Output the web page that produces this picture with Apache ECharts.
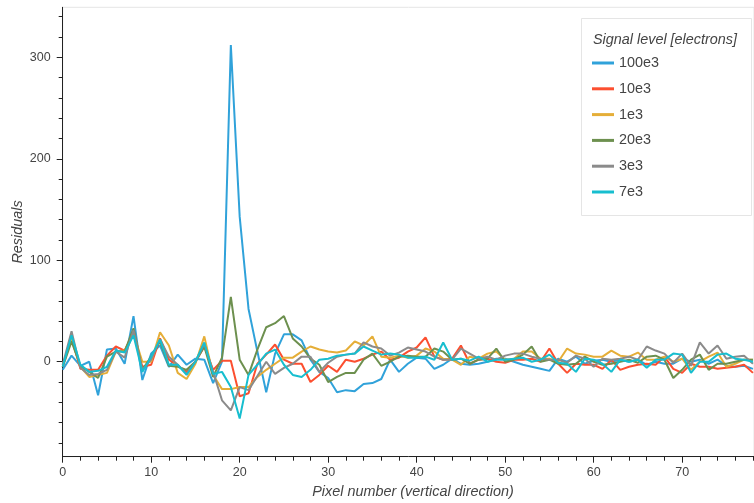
<!DOCTYPE html>
<html>
<head>
<meta charset="utf-8">
<script src="https://cdn.jsdelivr.net/npm/echarts@6/dist/echarts.min.js"></script>
<style>
  html, body { margin: 0; padding: 0; background: #ffffff; }
  #chart { width: 754px; height: 503px; }
</style>
</head>
<body>
<div id="chart"></div>
<script>
// Residuals per pixel row, one list per signal level (electrons)
const signalLevels = ['100e3', '10e3', '1e3', '20e3', '3e3', '7e3'];

const res100e3 = [-8, 6, -4, 0, -33, 12, 13, -2, 45, -18, 8, 16, -5, 7, -3, 3, 2, -21, 0, 312,
  143, 52, 10, -30, 8, 27, 27, 21, 2, -10, -16, -30, -28, -29, -22, -21, -17, 2, -10, -2,
  4, 3, -7, -3, 3, -2, -3, -2, 0, 3, 3, 0, -3, -5, -7, -9, 3, 0, 5, -2,
  1, 2, 0, 2, 0, 2, -3, 0, -2, -2, 3, 0, 2, -2, 2, -4, -5, -4, -7];

const res10e3 = [-5, 24, -7, -8, -8, 6, 15, 11, 28, -5, -3, 23, 2, -4, -10, 0, 15, -8, 1, 1,
  -34, -31, -2, 7, 17, 2, -2, -2, -20, -13, -4, -10, 2, 0, 3, 7, 10, 2, 4, 10,
  14, 24, 5, 2, 3, 16, -2, 2, 3, 0, -1, 2, 2, 3, 0, 13, -2, -11, -2, -3,
  -3, -7, 2, -8, -5, -3, -2, -3, 5, -7, -11, -2, -5, -5, -7, -6, -5, -3, -11];

const res1e3 = [-3, 22, -5, -15, -13, -11, 10, 11, 28, 0, 0, 29, 16, -11, -17, -2, 25, -13, -27, -27,
  -25, -25, -15, -8, -2, 4, 4, 10, 15, 12, 10, 9, 11, 20, 16, 25, 5, 4, 6, 4,
  6, 13, 10, 3, 2, -3, 5, 3, 8, 10, 2, 3, 10, 10, 3, 3, 0, 13, 8, 7,
  5, 5, 11, 6, 5, 9, 2, 2, 5, 0, 3, -8, 0, 5, 9, -5, -2, 2, 2];

const res20e3 = [-5, 20, -4, -10, -16, 5, 10, 10, 33, -8, 5, 20, -4, -5, -8, 0, 15, -15, 4, 64,
  2, -13, 12, 34, 38, 45, 23, 15, 3, -3, -20, -15, -11, -11, 2, 8, -4, 0, 5, 6,
  5, 5, 13, 10, 2, 3, -2, 2, 3, 13, 0, 2, 7, 15, 0, 2, -2, -3, -2, 5,
  0, -3, -2, 0, 2, -1, 5, 6, 2, -16, -8, 2, 7, -8, -2, -2, 0, 2, 2];

const res3e3 = [-3, 30, -6, -13, -12, -8, 10, 4, 31, -8, 2, 22, 5, -3, -12, 0, 18, -10, -38, -48,
  -25, -28, -14, 0, -12, -6, -2, 5, 5, -10, -1, 5, 7, 8, 19, 15, 13, 6, 9, 14,
  12, 10, 5, 2, 2, 13, 8, 3, 5, 2, 6, 8, 8, 5, 3, 2, 2, -1, 6, 3,
  -5, 3, 2, 3, 5, 2, 15, 11, 8, -1, 8, -4, 19, 8, 16, 3, 5, 6, -2];

const res7e3 = [-5, 26, -3, -10, -9, -5, 11, 9, 26, -10, 5, 22, -3, -3, -13, 0, 19, -12, -10, -25,
  -56, -13, -3, 8, 12, -3, -13, -15, -8, 2, 3, 6, 7, 8, 15, 11, 7, 8, 7, 4,
  4, 5, 2, 19, 2, 3, 1, 5, 0, 2, 2, 3, 4, 0, 2, 7, -1, -2, -10, 3,
  2, -2, -10, 2, 0, 2, -6, 2, 2, 8, 7, -11, 0, 0, 7, 8, 3, 2, 0];

const seriesValues = [res100e3, res10e3, res1e3, res20e3, res3e3, res7e3];

// Tick positions
const xMajorTicks = [0, 10, 20, 30, 40, 50, 60, 70];
const xMinorTicks = [2, 4, 6, 8, 12, 14, 16, 18, 22, 24, 26, 28, 32, 34, 36, 38, 42, 44, 46, 48,
  52, 54, 56, 58, 62, 64, 66, 68, 72, 74, 76, 78];
const yMajorTicks = [0, 100, 200, 300];
const yMinorTicks = [-80, -60, -40, -20, 20, 40, 60, 80, 120, 140, 160, 180, 220, 240, 260, 280,
  320, 340];

const palette = ['#30a2da', '#fc4f30', '#e5ae38', '#6d904f', '#8b8b8b', '#17becf'];
const FONT = '"Liberation Sans", Arial, Helvetica, sans-serif';
const X_MIN = 0, X_MAX = 78.12, Y_MIN = -93.6, Y_MAX = 349.3;
const AXIS_COLOR = '#222';
const LABEL_COLOR = '#444';

function majorAxis(dim, ticks, extra) {
  return Object.assign({
    type: 'value',
    min: dim === 'x' ? X_MIN : Y_MIN,
    max: dim === 'x' ? X_MAX : Y_MAX,
    axisLine: { show: true, onZero: false, lineStyle: { color: AXIS_COLOR, width: 1 } },
    axisTick: { show: true, customValues: ticks, length: 6, lineStyle: { color: AXIS_COLOR, width: 1 } },
    axisLabel: { customValues: ticks, color: LABEL_COLOR, fontSize: 12.5, fontFamily: FONT },
    splitLine: { show: false },
    minorTick: { show: false }
  }, extra);
}

function minorAxis(dim, ticks, extra) {
  return Object.assign({
    type: 'value',
    min: dim === 'x' ? X_MIN : Y_MIN,
    max: dim === 'x' ? X_MAX : Y_MAX,
    axisLine: { show: false, onZero: false },
    axisTick: { show: true, customValues: ticks, length: 4, lineStyle: { color: AXIS_COLOR, width: 1 } },
    axisLabel: { show: false },
    splitLine: { show: false }
  }, extra);
}

const chart = echarts.init(document.getElementById('chart'), null, { renderer: 'canvas' });

chart.setOption({
  animation: false,
  backgroundColor: '#ffffff',
  grid: {
    left: 62.7, right: 0, top: 7.3, bottom: 46.3,
    show: true, borderColor: '#e5e5e5', borderWidth: 1,
    containLabel: false, outerBoundsMode: 'none'
  },
  xAxis: [
    majorAxis('x', xMajorTicks, { position: 'bottom', axisLabel: { customValues: xMajorTicks, color: LABEL_COLOR, fontSize: 12.5, fontFamily: FONT, margin: 9 } }),
    minorAxis('x', xMinorTicks, { position: 'bottom' })
  ],
  yAxis: [
    majorAxis('y', yMajorTicks, { position: 'left', axisLabel: { customValues: yMajorTicks, color: LABEL_COLOR, fontSize: 12.5, fontFamily: FONT, margin: 12 } }),
    minorAxis('y', yMinorTicks, { position: 'left' })
  ],
  legend: {
    orient: 'vertical',
    left: 592, top: 55.5,
    padding: 0,
    itemGap: 10.8,
    itemWidth: 22, itemHeight: 3,
    icon: 'rect',
    textStyle: { fontSize: 14.4, lineHeight: 15, color: LABEL_COLOR, fontFamily: FONT },
    data: signalLevels
  },
  graphic: [
    {
      type: 'rect', z: 0,
      shape: { x: 581.5, y: 18.5, width: 170, height: 197 },
      style: { fill: '#ffffff', stroke: '#e5e5e5', lineWidth: 1 }
    },
    {
      type: 'text', z: 5, x: 593, y: 40,
      style: {
        text: 'Signal level [electrons]', fill: LABEL_COLOR,
        font: 'italic 14.4px ' + FONT, textAlign: 'left', textVerticalAlign: 'middle'
      }
    },
    {
      type: 'text', z: 5, x: 17.5, y: 232, rotation: Math.PI / 2,
      style: {
        text: 'Residuals', fill: LABEL_COLOR,
        font: 'italic 14.4px ' + FONT, textAlign: 'center', textVerticalAlign: 'middle'
      }
    },
    {
      type: 'text', z: 5, x: 413, y: 492,
      style: {
        text: 'Pixel number (vertical direction)', fill: LABEL_COLOR,
        font: 'italic 14.4px ' + FONT, textAlign: 'center', textVerticalAlign: 'middle'
      }
    }
  ],
  series: signalLevels.map((name, k) => ({
    name: name,
    type: 'line',
    xAxisIndex: 0,
    yAxisIndex: 0,
    data: seriesValues[k].map((v, i) => [i, v]),
    showSymbol: false,
    symbol: 'none',
    color: palette[k],
    lineStyle: { color: palette[k], width: 2 },
    clip: true,
    z: 2 + k
  }))
});
</script>
</body>
</html>
